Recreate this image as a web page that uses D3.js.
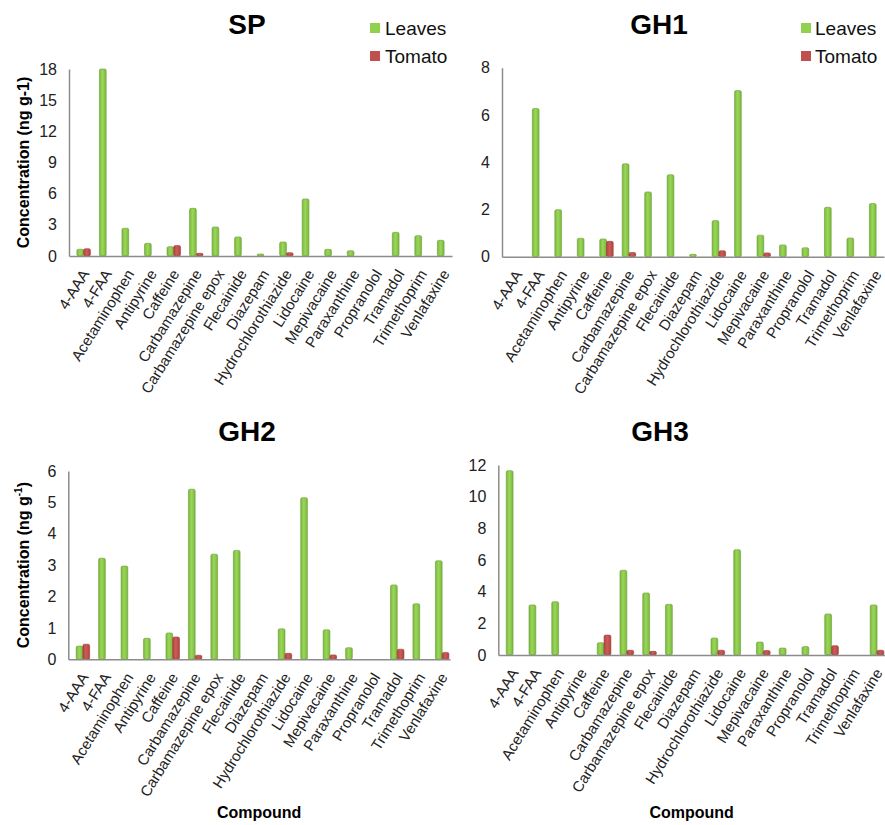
<!DOCTYPE html>
<html><head><meta charset="utf-8">
<script src="https://cdn.jsdelivr.net/npm/d3@7"></script>
<style>
body{margin:0;background:#fff;}
text{font-family:"Liberation Sans",Arial,sans-serif;}
</style></head>
<body><svg id="c" width="885" height="825"></svg>
<script>
const categories = ["4-AAA","4-FAA","Acetaminophen","Antipyrine","Caffeine","Carbamazepine","Carbamazepine epox","Flecainide","Diazepam","Hydrochlorothiazide","Lidocaine","Mepivacaine","Paraxanthine","Propranolol","Tramadol","Trimethoprim","Venlafaxine"];
const seriesNames = ["Leaves","Tomato"];
const spLeaves  = [0.65,18.0,2.67,1.22,0.9,4.59,2.79,1.83,0.19,1.35,5.49,0.64,0.51,0,2.28,1.96,1.51];
const spTomato  = [0.7,0,0,0,1.0,0.26,0,0,0,0.32,0,0,0,0,0,0,0];
const gh1Leaves = [0,6.27,1.99,0.78,0.75,3.93,2.74,3.47,0.1,1.53,7.03,0.91,0.5,0.38,2.09,0.79,2.25];
const gh1Tomato = [0,0,0,0,0.65,0.18,0,0,0,0.25,0,0.16,0,0,0,0,0];
const gh2Leaves = [0.42,3.22,2.97,0.67,0.84,5.42,3.35,3.47,0,0.97,5.15,0.94,0.37,0,2.37,1.77,3.14];
const gh2Tomato = [0.48,0,0,0,0.71,0.13,0,0,0,0.19,0,0.14,0,0,0.32,0,0.22];
const gh3Leaves = [11.64,3.16,3.37,0,0.78,5.35,3.92,3.2,0,1.07,6.65,0.82,0.44,0.53,2.59,0,3.16];
const gh3Tomato = [0,0,0,0,1.26,0.3,0.23,0,0,0.3,0,0.28,0,0,0.59,0,0.3];
const spTicks  = [0,3,6,9,12,15,18];
const gh1Ticks = [0,2,4,6,8];
const gh2Ticks = [0,1,2,3,4,5,6];
const gh3Ticks = [0,2,4,6,8,10,12];

const svg = d3.select("#c");
const defs = svg.append("defs");
function grad(id, edge, mid){
  const g = defs.append("linearGradient").attr("id",id).attr("x1","0").attr("x2","1").attr("y1","0").attr("y2","0");
  g.append("stop").attr("offset","0%").attr("stop-color",edge);
  g.append("stop").attr("offset","45%").attr("stop-color",mid);
  g.append("stop").attr("offset","100%").attr("stop-color",edge);
}
grad("gL","#7ab83e","#9ad758");
grad("gT","#b2433f","#cd5c58");
const fills = ["url(#gL)","url(#gT)"];
const strokes = ["#6a9e35","#9b3a36"];
const legendColors = ["#92d050","#c0504d"];

const panels = [
  {title:"SP", tx:247, ty:34, x0:69, x1:452, y0:256, y1:69, max:18, ticks:spTicks, data:[spLeaves,spTomato], legend:[370,385], ylab:"plain", xlab:false},
  {title:"GH1", tx:659, ty:34, x0:502, x1:884, y0:256.7, y1:67.7, max:8, ticks:gh1Ticks, data:[gh1Leaves,gh1Tomato], legend:[801,815], ylab:null, xlab:false},
  {title:"GH2", tx:247, ty:441, x0:68.3, x1:450, y0:659.3, y1:471, max:6, ticks:gh2Ticks, data:[gh2Leaves,gh2Tomato], legend:null, ylab:"sup", xlab:true},
  {title:"GH3", tx:660, ty:441, x0:498.3, x1:885, y0:655, y1:465, max:12, ticks:gh3Ticks, data:[gh3Leaves,gh3Tomato], legend:null, ylab:null, xlab:true}
];

panels.forEach(p=>{
  const g = svg.append("g");
  const x = d3.scaleBand().domain(categories).range([p.x0,p.x1]).padding(0);
  const y = d3.scaleLinear().domain([0,p.max]).range([p.y0,p.y1]);
  const bw = x.bandwidth();
  const w = bw*0.3;

  // title
  g.append("text").attr("x",p.tx).attr("y",p.ty).attr("text-anchor","middle")
    .attr("font-size",28).attr("font-weight","bold").attr("fill","#000").text(p.title);

  // bars
  p.data.forEach((vals,si)=>{
    g.append("g").selectAll("rect").data(categories.map((c,i)=>({c,v:vals[i]})).filter(d=>d.v>0))
      .join("rect")
      .attr("x",d=>x(d.c)+bw/2 - w/2 + si*w)
      .attr("y",d=>y(d.v))
      .attr("width",w)
      .attr("height",d=>p.y0-y(d.v))
      .attr("rx",1.5)
      .attr("fill",fills[si])
      .attr("stroke",strokes[si]).attr("stroke-width",0.6);
  });

  // y axis
  const ya = g.append("g").attr("transform",`translate(${p.x0},0)`)
    .call(d3.axisLeft(y).tickValues(p.ticks).tickSize(0).tickPadding(12).tickFormat(d3.format("d")));
  ya.select(".domain").attr("stroke","#8c8c8c").attr("stroke-width",1.5);
  ya.selectAll("text").attr("font-size",16).attr("fill","#222").attr("font-family","Liberation Sans, Arial, sans-serif");

  // x axis
  const xa = g.append("g").attr("transform",`translate(0,${p.y0})`)
    .call(d3.axisBottom(x).tickSize(0).tickFormat(""));
  xa.select(".domain").attr("stroke","#8c8c8c").attr("stroke-width",1.5);
  g.append("g").selectAll("text").data(categories).join("text")
    .attr("transform",d=>`translate(${x(d)+bw/2+5},${p.y0+15}) rotate(-58)`)
    .attr("text-anchor","end").attr("dy","0.35em")
    .attr("font-size",15).attr("fill","#222").text(d=>d);

  // legend
  if(p.legend){
    seriesNames.forEach((s,i)=>{
      const ly = 28 + i*28;
      g.append("rect").attr("x",p.legend[0]).attr("y",ly-5).attr("width",10).attr("height",10).attr("fill",legendColors[i]);
      g.append("text").attr("x",p.legend[1]).attr("y",ly+7).attr("font-size",19).attr("fill","#111").text(s);
    });
  }

  // y label
  if(p.ylab){
    const cy = (p.y0+p.y1)/2;
    const t = g.append("text").attr("transform",`translate(29,${cy}) rotate(-90)`)
      .attr("text-anchor","middle").attr("font-size",16).attr("font-weight","bold").attr("fill","#000");
    if(p.ylab==="plain"){ t.text("Concentration (ng g-1)"); }
    else {
      t.append("tspan").text("Concentration (ng g");
      t.append("tspan").attr("font-size",10).attr("dy",-7).text("-1");
      t.append("tspan").attr("dy",7).text(")");
    }
  }
  if(p.xlab){
    g.append("text").attr("x",(p.x0+p.x1)/2).attr("y",818).attr("text-anchor","middle")
      .attr("font-size",16).attr("font-weight","bold").attr("fill","#000").text("Compound");
  }
});
</script></body></html>
